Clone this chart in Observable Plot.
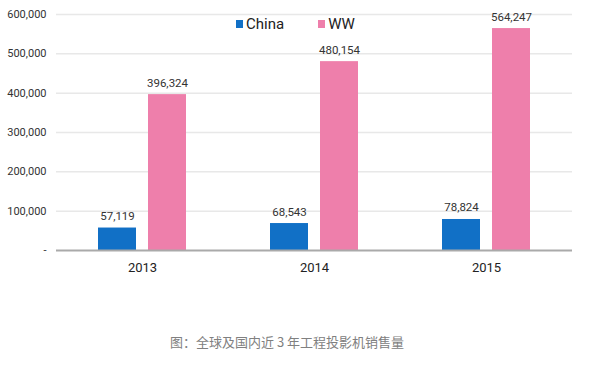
<!DOCTYPE html>
<html>
<head>
<meta charset="utf-8">
<script src="https://cdn.jsdelivr.net/npm/d3@7"></script>
<script src="https://cdn.jsdelivr.net/npm/@observablehq/plot@0.6"></script>
<style>
  body { margin: 0; background: #fff; }
  #wrap { position: relative; width: 600px; height: 366px; font-family: Roboto, sans-serif; }
  #legend { position: absolute; top: 15px; left: 236px; display: flex; gap: 34px; font-size: 15px; color: #222; }
  #legend span.item { display: flex; align-items: center; }
  #legend span.sw { display: inline-block; width: 7px; height: 8px; margin-right: 3px; }
  #caption { position: absolute; top: 332px; left: 0; width: 574px; text-align: center; font-family: "Noto Sans CJK SC", sans-serif; font-size: 13px; color: #808080; }
</style>
</head>
<body>
<div id="wrap">
  <div id="chart"></div>
  <div id="legend"></div>
  <div id="caption">图：全球及国内近 3 年工程投影机销售量</div>
</div>
<script>
const years = ["2013", "2014", "2015"];
const series = ["China", "WW"];
const chinaValues = [57119, 68543, 78824];
const wwValues = [396324, 480154, 564247];
const seriesColors = ["#1170c6", "#ee7fab"];
const yTicks = [0, 100000, 200000, 300000, 400000, 500000, 600000];

const data = [];
years.forEach((yr, i) => {
  data.push({year: yr, series: "China", value: chinaValues[i]});
  data.push({year: yr, series: "WW", value: wwValues[i]});
});

const fmt = d3.format(",");

const chart = Plot.plot({
  width: 600,
  height: 282,
  marginLeft: 55,
  marginRight: 28,
  marginTop: 14,
  marginBottom: 32,
  style: {fontFamily: "Roboto, sans-serif", fontSize: "11px", color: "#333", background: "#fff"},
  fx: {domain: years, padding: 0, paddingOuter: 0, label: null, axis: null},
  x: {domain: series, paddingInner: 0.24, paddingOuter: 0.84, axis: null},
  y: {domain: [0, 600000], ticks: yTicks, tickSize: 0, tickPadding: 10,
      tickFormat: d => d === 0 ? "-" : fmt(d), label: null},
  color: {domain: series, range: seriesColors},
  marks: [
    Plot.gridY(yTicks.filter(d => d > 0), {stroke: "#e8e8e8", strokeOpacity: 1, strokeWidth: 1.5}),
    Plot.barY(data, {fx: "year", x: "series", y: "value", fill: "series"}),
    Plot.ruleY([0], {stroke: "#aaa", strokeWidth: 2}),
    Plot.text(data, {fx: "year", x: "series", y: "value", text: d => fmt(d.value),
      lineAnchor: "bottom", dy: -8, fontSize: 11.5, fill: "#333"}),
    Plot.axisFx({anchor: "bottom", tickSize: 0, tickPadding: 12, fontSize: 13, label: null, fill: "#222"})
  ]
});
document.getElementById("chart").appendChild(chart);

const legend = document.getElementById("legend");
series.forEach((s, i) => {
  const item = document.createElement("span");
  item.className = "item";
  const sw = document.createElement("span");
  sw.className = "sw";
  sw.style.background = seriesColors[i];
  item.appendChild(sw);
  item.appendChild(document.createTextNode(s));
  legend.appendChild(item);
});
</script>
</body>
</html>
